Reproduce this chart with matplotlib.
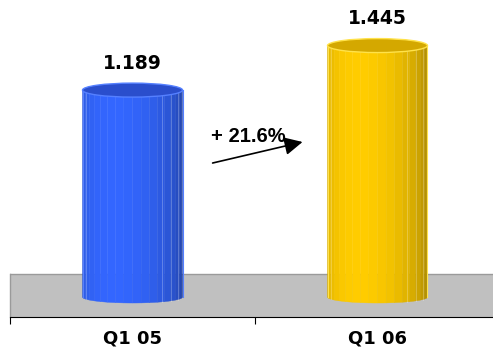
import numpy as np
import matplotlib
matplotlib.use("Agg")
import matplotlib.pyplot as plt
from matplotlib.patches import Polygon, Ellipse, Rectangle
from matplotlib.colors import to_rgb

# ---- data ----
categories = ["Q1 05", "Q1 06"]
values = [1.189, 1.445]
value_labels = ["1.189", "1.445"]
growth_label = "+ 21.6%"

# ---- style ----
body_colors = ["#3366ff", "#ffcc00"]
top_colors = ["#2a4ecc", "#d4a800"]
rim_colors = ["#5580ff", "#ffe24a"]

W, H = 493, 351
fig = plt.figure(figsize=(W / 100, H / 100), dpi=100)
ax = fig.add_axes([10 / W, 34 / H, 483 / W, 317 / H])
px_x = 245.0   # pixels per category
px_y = 174.0   # pixels per unit
XL = (-0.5, -0.5 + 483 / px_x)
YL = (-20 / px_y, 297 / px_y)
ax.set_xlim(*XL)
ax.set_ylim(*YL)
xl, yl = XL, YL

# floor
floor_top = 23 / px_y
ax.add_patch(Rectangle((xl[0], yl[0]), xl[1] - xl[0], floor_top - yl[0],
                       facecolor="#c0c0c0", edgecolor="none", zorder=1))
ax.plot([xl[0], xl[1]], [floor_top, floor_top], color="#9a9a9a", lw=1.0, zorder=1.5)
ax.plot([xl[0], xl[0]], [yl[0], floor_top], color="#9a9a9a", lw=1.0, zorder=1.5, clip_on=False)

r = 50 / px_x          # cylinder radius in data x
b_top = 7 / px_y       # ellipse semi-axis (y)
b_bot = 6 / px_y
nfac = 18
light = 0.62 * np.pi

for i, (cat, v) in enumerate(zip(categories, values)):
    cx = i
    base = np.array(to_rgb(body_colors[i]))
    phis = np.linspace(np.pi, 0, nfac + 1)
    for k in range(nfac):
        p0, p1 = phis[k], phis[k + 1]
        pm = 0.5 * (p0 + p1)
        inten = 0.74 + 0.26 * np.cos(pm - light)
        col = np.clip(base * inten, 0, 1)
        ps = np.linspace(p0, p1, 6)
        xs = cx + r * np.cos(ps)
        ys_bot = -b_bot * np.sin(ps)
        verts = list(zip(xs, ys_bot)) + list(zip(xs[::-1], [v] * len(xs)))
        ax.add_patch(Polygon(verts, closed=True, facecolor=col,
                             edgecolor=col, lw=0.3, zorder=2))
    # faint facet highlight lines
    for pl in [0.88 * np.pi, 0.30 * np.pi, 0.22 * np.pi, 0.14 * np.pi]:
        xline = cx + r * np.cos(pl)
        ax.plot([xline, xline], [-b_bot * np.sin(pl), v], color="white",
                alpha=0.25, lw=0.7, zorder=2.5)
    # outline of body sides
    ax.plot([cx - r, cx - r], [0, v], color=rim_colors[i], lw=0.8, zorder=2.6)
    ax.plot([cx + r, cx + r], [0, v], color=rim_colors[i], lw=0.8, zorder=2.6)
    # top ellipse
    ax.add_patch(Ellipse((cx, v), 2 * r, 2 * b_top, facecolor=top_colors[i],
                         edgecolor=rim_colors[i], lw=1.0, zorder=3))
    # value label
    ax.annotate(value_labels[i], xy=(cx, v), xytext=(0, 19.5),
                textcoords="offset points", ha="center", va="center",
                fontsize=13.5, fontweight="bold", family="DejaVu Sans", zorder=5)

# growth arrow
ax.annotate("", xy=(0.694, 0.891), xytext=(0.327, 0.770),
            arrowprops=dict(arrowstyle="-|>,head_length=1.1,head_width=0.55",
                            color="black", lw=1.2, shrinkA=0, shrinkB=0),
            zorder=6)
ax.text(0.472, 0.92, growth_label, ha="center", va="center",
        fontsize=14.5, fontweight="bold", family="Liberation Sans", zorder=6)

# axes
for s in ["top", "right", "left"]:
    ax.spines[s].set_visible(False)
ax.spines["bottom"].set_color("black")
ax.spines["bottom"].set_linewidth(0.8)
ax.spines["bottom"].set_zorder(4)
ax.set_yticks([])
ax.set_xticks([-0.5, 0.5])
ax.set_xticklabels([])
ax.tick_params(axis="x", which="major", length=5, width=0.8, direction="out")
ax.set_xticks([0, 1], minor=True)
ax.set_xticklabels(categories, minor=True, fontsize=13, fontweight="bold",
                   family="DejaVu Sans")
ax.tick_params(axis="x", which="minor", length=0, pad=9)
ax.set_xlim(*XL)
ax.set_ylim(*YL)
ax.patch.set_alpha(0)

fig.savefig("out.png", dpi=100)
